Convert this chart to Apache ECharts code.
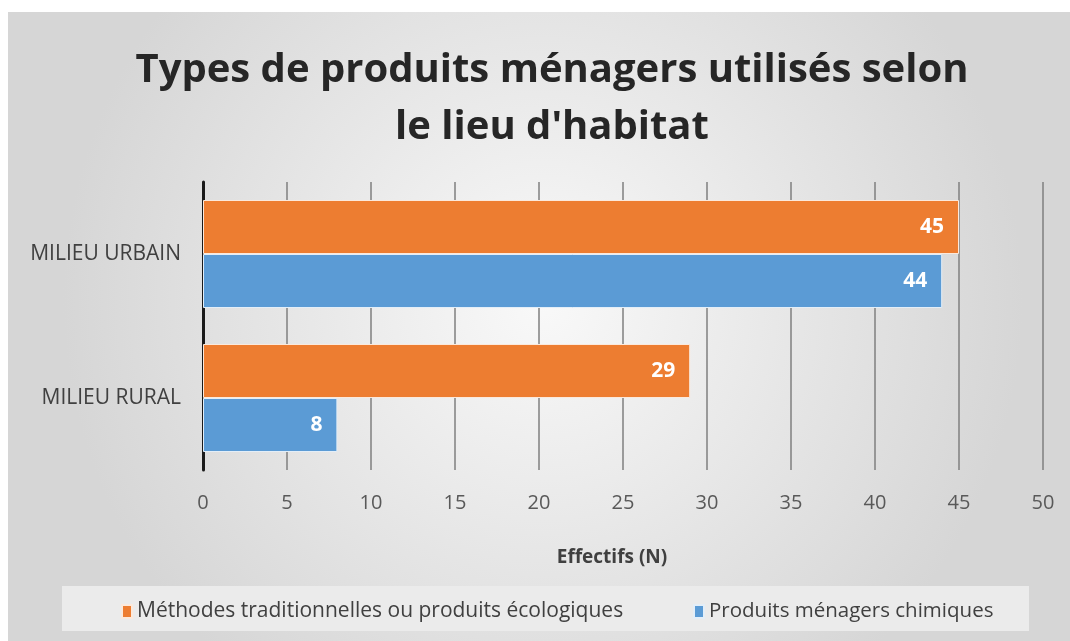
<!DOCTYPE html>
<html>
<head>
<meta charset="utf-8">
<script src="https://cdn.jsdelivr.net/npm/echarts@6/dist/echarts.min.js"></script>
<style>
    html, body { margin: 0; padding: 0; background: #fff; }
    #chartDemo { width: 1070px; height: 641px; }
</style>
</head>
<body>
<div id="chartDemo"></div>
<script>
// donnees
var categories = ['MILIEU URBAIN', 'MILIEU RURAL'];
var seriesNames = ['Méthodes traditionnelles ou produits écologiques', 'Produits ménagers chimiques'];
var traditionnel = [45, 29];
var chimique = [44, 8];
var xTicks = [0, 50, 5]; // min, max, pas

(function () {
    'use strict';
    var font = '"Open Sans", sans-serif';
    var chart = echarts.init(document.getElementById('chartDemo'));

    var options = {
        backgroundColor: '#fff',
        textStyle: { fontFamily: font },
        graphic: [
            {
                // fond gris du cadre
                type: 'rect', z: -10, silent: true,
                shape: { x: 8, y: 12, width: 1070, height: 640 },
                style: {
                    fill: new echarts.graphic.RadialGradient(0.5, 0.45, 0.75, [
                        { offset: 0, color: '#f9f9f9' },
                        { offset: 1, color: '#d6d6d6' }
                    ])
                }
            },
            {
                // boite de la legende
                type: 'rect', z: -5, silent: true,
                shape: { x: 62, y: 586, width: 967, height: 45 },
                style: { fill: '#ebebeb' }
            }
        ],
        title: {
            text: "Types de produits ménagers utilisés selon\nle lieu d'habitat",
            left: 547,
            top: 37,
            textAlign: 'center',
            textStyle: {
                fontFamily: font,
                fontSize: 40,
                fontWeight: 'bold',
                color: '#262626',
                lineHeight: 57
            }
        },
        legend: [
            {
                data: [seriesNames[0]],
                left: 116, top: 596,
                itemWidth: 10, itemHeight: 13,
                icon: 'rect',
                textStyle: { fontFamily: font, fontSize: 21, color: '#404040' }
            },
            {
                data: [seriesNames[1]],
                left: 688, top: 596,
                itemWidth: 10, itemHeight: 13,
                icon: 'rect',
                textStyle: { fontFamily: font, fontSize: 20.5, color: '#404040' }
            }
        ],
        grid: { left: 203, right: 27, top: 182, bottom: 171 },
        xAxis: {
            type: 'value',
            min: xTicks[0],
            max: xTicks[1],
            interval: xTicks[2],
            name: 'Effectifs (N)',
            nameLocation: 'middle',
            nameGap: 78,
            nameTextStyle: {
                fontFamily: font, fontSize: 19, fontWeight: 'bold', color: '#404040',
                padding: [0, 22, 0, 0]
            },
            axisLine: { show: false },
            axisTick: { show: false },
            axisLabel: { fontFamily: font, fontSize: 20, color: '#595959', margin: 23 },
            splitLine: { lineStyle: { color: '#7f7f7f', width: 1.5 } }
        },
        yAxis: {
            type: 'category',
            inverse: true,
            data: categories,
            axisLine: { lineStyle: { color: '#1a1a1a', width: 3 } },
            axisTick: { show: false },
            axisLabel: { fontFamily: font, fontSize: 21, color: '#404040', margin: 22 }
        },
        series: [
            {
                name: seriesNames[0],
                type: 'bar',
                data: traditionnel,
                barWidth: 54,
                barGap: '0%',
                itemStyle: { color: '#ed7d31', borderColor: '#fbe9dc', borderWidth: 1 },
                label: {
                    show: true, position: 'insideRight', distance: 15,
                    color: '#fff', fontFamily: font, fontSize: 21, fontWeight: 'bold'
                }
            },
            {
                name: seriesNames[1],
                type: 'bar',
                data: chimique,
                barWidth: 54,
                barGap: '0%',
                itemStyle: { color: '#5b9bd5', borderColor: '#e3eef8', borderWidth: 1 },
                label: {
                    show: true, position: 'insideRight', distance: 15,
                    color: '#fff', fontFamily: font, fontSize: 21, fontWeight: 'bold'
                }
            }
        ]
    };
    chart.setOption(options);
})();
</script>
</body>
</html>
